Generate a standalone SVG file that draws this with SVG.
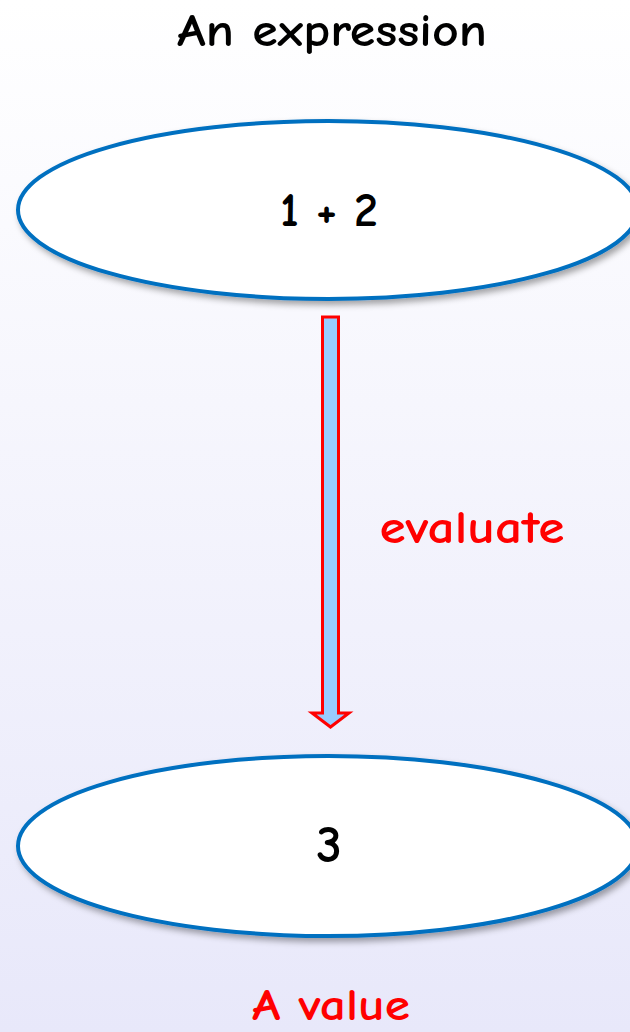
<svg xmlns="http://www.w3.org/2000/svg" width="630" height="1032" viewBox="0 0 630 1032">
<defs>
<linearGradient id="bg" x1="0" y1="0" x2="0" y2="1">
<stop offset="0" stop-color="#ffffff"/>
<stop offset="1" stop-color="#e8e8fa"/>
</linearGradient>
<filter id="sh" x="-10%" y="-20%" width="120%" height="150%">
<feDropShadow dx="3" dy="4" stdDeviation="3" flood-color="#000" flood-opacity="0.35"/>
</filter>
<style>
.node{fill:#ffffff;stroke:#0070c0;stroke-width:4;filter:url(#sh)}
.t{font-family:"Comic Sans MS","Comic Neue","Noto Sans",sans-serif;text-anchor:middle;font-weight:700}
.blk{fill:#000000}
.red{fill:#ff0000}
.arrow{fill:#99ccff;stroke:#ff0000;stroke-width:3;stroke-linejoin:miter}
</style>
</defs>
<rect x="0" y="0" width="630" height="1032" fill="url(#bg)"/>
<text class="t blk" x="332" y="46" font-size="46" textLength="310" lengthAdjust="spacingAndGlyphs">An expression</text>
<g id="expr">
<ellipse class="node" cx="328" cy="210" rx="310" ry="89"/>
<text class="t blk" x="329" y="226" font-size="48" textLength="98" lengthAdjust="spacingAndGlyphs">1 + 2</text>
</g>
<g id="connectors">
<path class="arrow" d="M322.5 317 L338.5 317 L338.5 713 L349 713 L330.5 727 L312 713 L322.5 713 Z"/>
<text class="t red" x="472" y="543" font-size="46" textLength="185" lengthAdjust="spacingAndGlyphs">evaluate</text>
</g>
<g id="value">
<ellipse class="node" cx="328" cy="846" rx="310" ry="90"/>
<text class="t blk" x="329" y="862" font-size="52">3</text>
</g>
<text class="t red" x="331" y="1020" font-size="44" textLength="158" lengthAdjust="spacingAndGlyphs">A value</text>
</svg>
